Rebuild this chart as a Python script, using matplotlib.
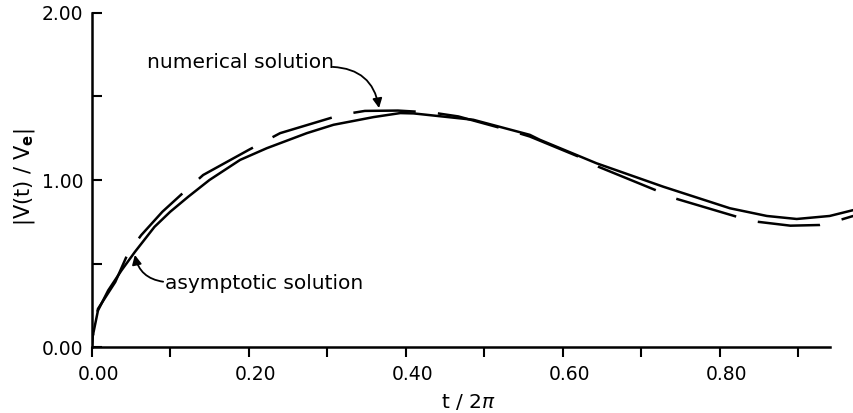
import matplotlib
matplotlib.use("Agg")
import matplotlib.pyplot as plt
from matplotlib.transforms import ScaledTranslation

plt.rcParams['font.family'] = ['DejaVu Sans']
plt.rcParams['lines.scale_dashes'] = False

# asymptotic solution (solid)
asym_t = [0.0, 0.001, 0.008, 0.021, 0.038, 0.055, 0.08, 0.10, 0.123, 0.15, 0.189, 0.223,
          0.274, 0.308, 0.359, 0.393, 0.41, 0.486, 0.558, 0.571, 0.643, 0.728,
          0.813, 0.86, 0.898, 0.94, 0.97]
asym_v = [0.0, 0.06, 0.22, 0.34, 0.46, 0.57, 0.72, 0.81, 0.90, 1.0, 1.12, 1.19,
          1.28, 1.33, 1.376, 1.40, 1.398, 1.36, 1.27, 1.24, 1.10, 0.96,
          0.831, 0.785, 0.767, 0.785, 0.82]

# numerical solution (dashed)
num_t = [0.0, 0.001, 0.008, 0.03, 0.046, 0.063, 0.09, 0.118, 0.142, 0.2, 0.24, 0.318,
         0.348, 0.39, 0.434, 0.467, 0.537, 0.558, 0.62, 0.645, 0.718, 0.743,
         0.822, 0.847, 0.89, 0.927, 0.953, 0.97]
num_v = [0.0, 0.06, 0.23, 0.39, 0.56, 0.67, 0.81, 0.93, 1.03, 1.18, 1.28, 1.39,
         1.413, 1.415, 1.403, 1.38, 1.29, 1.26, 1.14, 1.08, 0.94, 0.89,
         0.78, 0.751, 0.727, 0.731, 0.761, 0.785]

x_major = [0.0, 0.2, 0.4, 0.6, 0.8]
x_major_labels = ['0.00', '0.20', '0.40', '0.60', '0.80']
x_minor = [0.1, 0.3, 0.5, 0.7, 0.9]
y_major = [0.0, 1.0, 2.0]
y_major_labels = ['0.00', '1.00', '2.00']
y_minor = [0.5, 1.5]

fig = plt.figure(figsize=(8.54, 4.13), dpi=100)
ax = fig.add_axes([91.7 / 854, 65.7 / 413, (854 - 91.7) / 854, (400.3 - 65.7) / 413])

ax.plot(asym_t, asym_v, color='black', lw=1.8, solid_capstyle='butt')
ax.plot(num_t, num_v, color='black', lw=1.8, linestyle=(35, (45, 16)),
        dash_capstyle='butt')

ax.set_xlim(0, 0.971)
ax.set_ylim(0, 2.0)

for s in ['top', 'right']:
    ax.spines[s].set_visible(False)
ax.spines['left'].set_linewidth(1.8)
ax.spines['bottom'].set_linewidth(1.8)
ax.spines['bottom'].set_bounds(0, 0.941)
ax.spines['left'].set_bounds(0, 2.0)

ax.set_xticks(x_major)
ax.set_xticklabels(x_major_labels)
ax.set_xticks(x_minor, minor=True)
ax.set_yticks(y_major)
ax.set_yticklabels(y_major_labels)
ax.set_yticks(y_minor, minor=True)

ax.tick_params(axis='x', which='both', direction='out', length=7.5, width=1.5,
               labelsize=13.5, pad=5)
ax.tick_params(axis='y', which='both', direction='in', length=7.5, width=1.5,
               labelsize=13.5, pad=6)

offset = ScaledTranslation(7 / 100, 0, fig.dpi_scale_trans)
for lab in ax.get_xticklabels():
    lab.set_transform(lab.get_transform() + offset)

fig.text(468 / 854, 1 - 402 / 413, 't / 2$\\pi$', ha='center', va='center', fontsize=14.5)
fig.text(25 / 854, 1 - 177 / 413, '|V(t) / V$_{\\mathbf{e}}$|', ha='center', va='center',
         fontsize=15, rotation=90)

ax.text(0.070, 1.70, 'numerical solution', ha='left', va='center', fontsize=14.5)
ax.annotate('', xy=(0.366, 1.43), xytext=(0.307, 1.676),
            arrowprops=dict(arrowstyle='-|>', color='black', lw=1.3,
                            mutation_scale=14, shrinkA=0, shrinkB=0,
                            connectionstyle='arc3,rad=-0.4'))

ax.text(0.0934, 0.379, 'asymptotic solution', ha='left', va='center', fontsize=14.5)
ax.annotate('', xy=(0.055, 0.552), xytext=(0.091, 0.392),
            arrowprops=dict(arrowstyle='-|>', color='black', lw=1.3,
                            mutation_scale=14, shrinkA=0, shrinkB=0,
                            connectionstyle='arc3,rad=-0.35'))

fig.savefig('out.png', dpi=100)
